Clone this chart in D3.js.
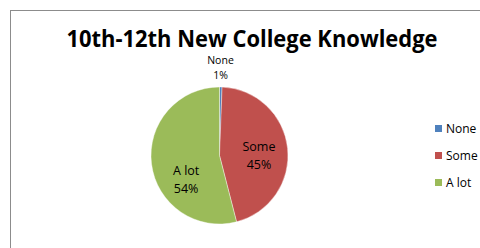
<!DOCTYPE html>
<html>
<head>
<meta charset="utf-8">
<script src="https://cdn.jsdelivr.net/npm/d3@7"></script>
<style>
  body { margin: 0; background: #fff; }
  svg { display: block; }
</style>
</head>
<body>
<svg id="chart" width="480" height="248"></svg>
<script>
// chart data
var categories = ["None", "Some", "A lot"];
var values = [0.6, 45.4, 54.0];
var pctLabels = ["1%", "45%", "54%"];
var colors = ["#4F81BD", "#C0504D", "#9BBB59"];
var title = "10th-12th New College Knowledge";

var svg = d3.select("#chart");

//outer chart frame, runs off the right and bottom edge
svg.append("rect")
  .attr("x", 10.5)
  .attr("y", 10.5)
  .attr("width", 500)
  .attr("height", 260)
  .attr("fill", "#fff")
  .attr("stroke", "#8c8c8c")
  .attr("stroke-width", 1);

svg.append("text")
  .attr("x", 252)
  .attr("y", 47)
  .attr("text-anchor", "middle")
  .attr("font-family", "'Open Sans', sans-serif")
  .attr("font-weight", "bold")
  .attr("font-size", 23)
  .attr("textLength", 371)
  .attr("lengthAdjust", "spacingAndGlyphs")
  .attr("fill", "#000")
  .text(title);

var cx = 219.5, cy = 155.5, r = 68.5;

var pie = d3.pie().sort(null).value(function(d) { return d; });
var arcs = pie(values);
var arc = d3.arc().innerRadius(0).outerRadius(r);

var g = svg.append("g").attr("transform", "translate(" + cx + "," + cy + ")");

g.selectAll("path")
  .data(arcs)
  .enter()
  .append("path")
    .attr("d", arc)
    .attr("fill", function(d, i) { return colors[i]; })
    .attr("stroke", "#fff")
    .attr("stroke-width", 0.4);

//labels: small slice goes outside above the pie, the rest sit inside
//  (nudges move the excel-style label a bit off the plain centroid)
var inner = d3.arc().innerRadius(r * 0.55).outerRadius(r * 0.55);
var nudge = [[0, 0], [2, 0], [4, 15]];
var labelPos = arcs.map(function(d, i) {
  if (i == 0) return [1, -r - 23];
  var c = inner.centroid(d);
  return [c[0] + nudge[i][0], c[1] + nudge[i][1]];
});

var lbl = g.selectAll("text.lbl")
  .data(arcs)
  .enter()
  .append("text")
    .attr("class", "lbl")
    .attr("text-anchor", "middle")
    .attr("font-family", "'Open Sans', sans-serif")
    .attr("font-size", function(d, i) { return i == 0 ? 10.5 : 12.5; })
    .attr("fill", "#000")
    .attr("transform", function(d, i) {
      return "translate(" + labelPos[i][0] + "," + labelPos[i][1] + ")";
    });

lbl.append("tspan")
  .attr("x", 0)
  .attr("dy", 0)
  .text(function(d, i) { return categories[i]; });

lbl.append("tspan")
  .attr("x", 0)
  .attr("dy", function(d, i) { return i == 0 ? 14.5 : 18; })
  .text(function(d, i) { return pctLabels[i]; });

//legend
var legendY = d3.scalePoint().domain(categories).range([128.5, 182.5]);

var leg = svg.selectAll("g.leg")
  .data(categories)
  .enter()
  .append("g")
    .attr("class", "leg")
    .attr("transform", function(d) { return "translate(435," + legendY(d) + ")"; });

leg.append("rect")
  .attr("x", 0)
  .attr("y", -3.5)
  .attr("width", 7)
  .attr("height", 7)
  .attr("fill", function(d, i) { return colors[i]; });

leg.append("text")
  .attr("x", 11)
  .attr("y", 4.5)
  .attr("font-family", "'Open Sans', sans-serif")
  .attr("font-size", 12)
  .attr("fill", "#000")
  .text(function(d) { return d; });
</script>
</body>
</html>
